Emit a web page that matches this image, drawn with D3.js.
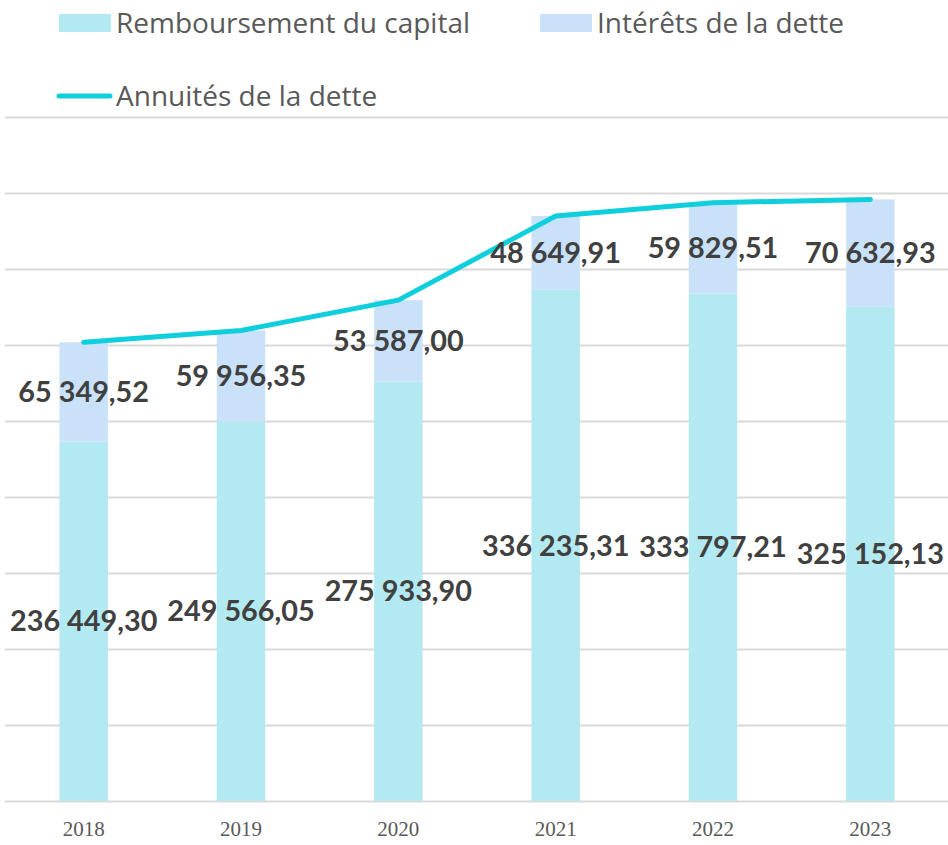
<!DOCTYPE html>
<html><head><meta charset="utf-8">
<script src="https://cdn.jsdelivr.net/npm/d3@7"></script>
<style>body{margin:0;background:#fff}svg{display:block}</style>
</head><body>
<script>
const years = ["2018","2019","2020","2021","2022","2023"];
const capital = [236449.30, 249566.05, 275933.90, 336235.31, 333797.21, 325152.13];
const interets = [65349.52, 59956.35, 53587.00, 48649.91, 59829.51, 70632.93];
const capitalLabels = ["236 449,30","249 566,05","275 933,90","336 235,31","333 797,21","325 152,13"];
const interetsLabels = ["65 349,52","59 956,35","53 587,00","48 649,91","59 829,51","70 632,93"];
const annuites = capital.map((c,i)=>c+interets[i]);
const yTicks = [0,50000,100000,150000,200000,250000,300000,350000,400000,450000];

const W=948,H=845;
const colCap="#b3e9f0", colInt="#c9e2fa", colLine="#0fcfdc";
const svg=d3.select("body").append("svg").attr("width",W).attr("height",H);
const x=d3.scaleBand().domain(years).range([5,949]).paddingInner(0.692).paddingOuter(0.346);
const y=d3.scaleLinear().domain([0,450000]).range([801,117]);

svg.append("g").selectAll("line").data(yTicks).join("line")
  .attr("x1",5).attr("x2",948).attr("y1",d=>Math.round(y(d))+0.5).attr("y2",d=>Math.round(y(d))+0.5)
  .attr("stroke","#d9d9d9").attr("stroke-width",2);

svg.append("g").selectAll("rect").data(years).join("rect")
  .attr("x",d=>x(d)).attr("width",x.bandwidth())
  .attr("y",(d,i)=>y(capital[i])).attr("height",(d,i)=>y(0)-y(capital[i])).attr("fill",colCap);
svg.append("g").selectAll("rect").data(years).join("rect")
  .attr("x",d=>x(d)).attr("width",x.bandwidth())
  .attr("y",(d,i)=>y(annuites[i])).attr("height",(d,i)=>y(capital[i])-y(annuites[i])).attr("fill",colInt);

const line=d3.line().x((d,i)=>x(years[i])+x.bandwidth()/2).y(d=>y(d));
svg.append("path").datum(annuites).attr("d",line).attr("fill","none")
  .attr("stroke",colLine).attr("stroke-width",5).attr("stroke-linecap","round").attr("stroke-linejoin","round");

const lab=svg.append("g").attr("font-family","Lato, 'Open Sans', sans-serif").attr("font-weight","bold")
  .attr("font-size",28.8).attr("fill","#404040").attr("text-anchor","middle");
lab.selectAll("text.c").data(years).join("text").attr("class","c")
  .attr("x",d=>x(d)+x.bandwidth()/2).attr("y",(d,i)=>(y(0)+y(capital[i]))/2).attr("dy","0.35em")
  .text((d,i)=>capitalLabels[i]);
lab.selectAll("text.i").data(years).join("text").attr("class","i")
  .attr("x",d=>x(d)+x.bandwidth()/2).attr("y",(d,i)=>(y(capital[i])+y(annuites[i]))/2).attr("dy","0.35em")
  .text((d,i)=>interetsLabels[i]);

const xa=svg.append("g").attr("transform","translate(0,801)")
  .call(d3.axisBottom(x).tickSize(0).tickPadding(20));
xa.select(".domain").remove();
xa.selectAll("text").attr("font-family","'Liberation Serif', serif").attr("font-size",21).attr("fill","#595959");

const lg=svg.append("g").attr("font-family","'Open Sans', sans-serif").attr("font-size",28).attr("fill","#595959");
lg.append("rect").attr("x",59).attr("y",14).attr("width",52).attr("height",18).attr("fill",colCap);
lg.append("text").attr("x",116).attr("y",33).text("Remboursement du capital");
lg.append("rect").attr("x",540).attr("y",14).attr("width",52).attr("height",18).attr("fill",colInt);
lg.append("text").attr("x",597).attr("y",33).text("Intérêts de la dette");
lg.append("line").attr("x1",59).attr("x2",110).attr("y1",96).attr("y2",96).attr("stroke",colLine).attr("stroke-width",5).attr("stroke-linecap","round");
lg.append("text").attr("x",116).attr("y",106).text("Annuités de la dette");
</script>
</body></html>
